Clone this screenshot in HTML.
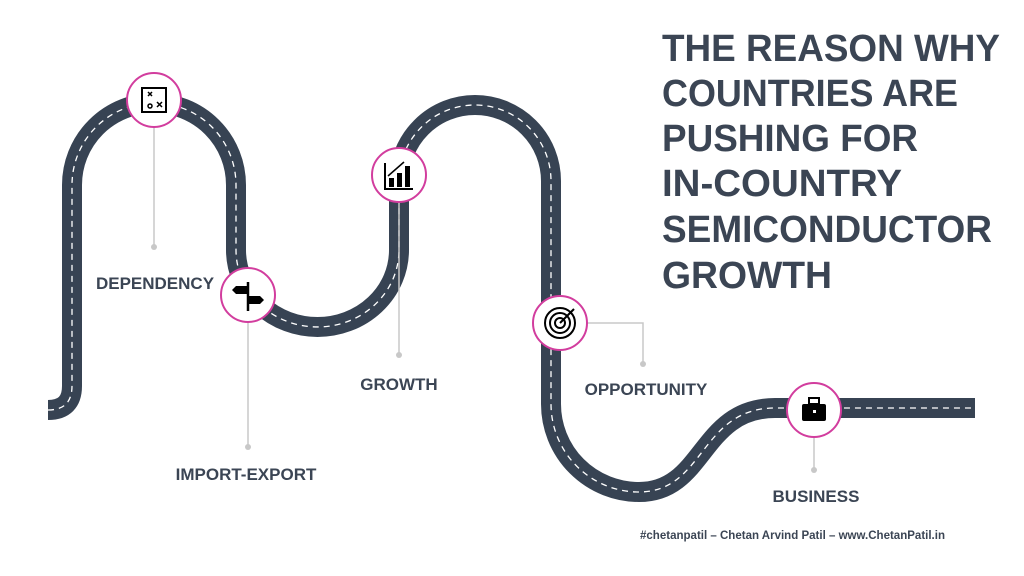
<!DOCTYPE html>
<html><head><meta charset="utf-8"><style>
body{margin:0;background:#fff;}
svg{display:block}
text{font-family:"Liberation Sans",sans-serif;font-weight:bold;fill:#3b4554}
</style></head><body>
<svg width="1024" height="576" viewBox="0 0 1024 576">
<path d="M48,410 Q72,410 72,386 L72,185 A82,82 0 0 1 236,185 L236,250 A81.5,77 0 0 0 399,250 L399,181 A76,76 0 0 1 551,181 L551,404 A88,88 0 0 0 639,492 C705,492 700,408 775,408 L975,408" fill="none" stroke="#374353" stroke-width="20"/>
<path d="M48,410 Q72,410 72,386 L72,185 A82,82 0 0 1 236,185 L236,250 A81.5,77 0 0 0 399,250 L399,181 A76,76 0 0 1 551,181 L551,404 A88,88 0 0 0 639,492 C705,492 700,408 775,408 L975,408" fill="none" stroke="#fff" stroke-width="1.3" stroke-dasharray="6,5"/>
<g stroke="#c8c8c8" stroke-width="1.5" fill="none">
<path d="M154,127 V247"/><path d="M248,322 V447"/><path d="M399,202 V355"/><path d="M587,323 H643 V364"/><path d="M814,437 V470"/>
</g>
<g fill="#c8c8c8"><circle cx="154" cy="247" r="3"/><circle cx="248" cy="447" r="3"/><circle cx="399" cy="355" r="3"/><circle cx="643" cy="364" r="3"/><circle cx="814" cy="470" r="3"/></g>
<g fill="#fff" stroke="#d23d9e" stroke-width="2">
<circle cx="154" cy="100" r="27"/><circle cx="248" cy="295" r="27"/><circle cx="399" cy="175" r="27"/><circle cx="560" cy="323" r="27"/><circle cx="814" cy="410" r="27"/>
</g>
<!-- icons -->
<g stroke="#000" fill="none" stroke-width="2">
<rect x="142" y="88" width="24" height="24"/>
<path d="M157,107 l5,-5 m0,5 l-5,-5 M148,96 l4,-4 m0,4 l-4,-4" stroke-width="1.5"/>
<circle cx="150" cy="106" r="2" stroke-width="1.5"/>
<path d="M248,282 V311" stroke-width="2.5"/>
<path d="M385,163 V189 H413" stroke-width="2"/>
<circle cx="560" cy="323" r="15"/><circle cx="560" cy="323" r="10"/><circle cx="560" cy="323" r="5"/>
<path d="M560,323 L574,309" stroke-width="2"/>
</g>
<g fill="#000">
<polygon points="236,286 247,286 247,294 236,294 232,290"/>
<polygon points="249,296 260,296 264,300 260,304 249,304"/>
<rect x="389" y="178" width="5" height="9"/><rect x="397" y="173" width="5" height="14"/><rect x="405" y="166" width="5" height="21"/>
<rect x="802" y="404" width="24" height="17" rx="2"/>
<rect x="809" y="398" width="10" height="6" fill="none" stroke="#000" stroke-width="2"/>
</g>
<rect x="813" y="410" width="3" height="3" fill="#fff"/>
<path d="M388,176 L404,162" stroke="#000" stroke-width="1.5"/>
<text x="155" y="289" font-size="17" text-anchor="middle">DEPENDENCY</text>
<text x="246" y="480" font-size="17" text-anchor="middle">IMPORT-EXPORT</text>
<text x="399" y="390" font-size="17" text-anchor="middle">GROWTH</text>
<text x="646" y="395" font-size="17" text-anchor="middle">OPPORTUNITY</text>
<text x="816" y="502" font-size="17" text-anchor="middle">BUSINESS</text>
<g font-size="38" fill="#3a4656">
<text x="662" y="61" textLength="338" lengthAdjust="spacingAndGlyphs">THE REASON WHY</text>
<text x="662" y="106" textLength="296" lengthAdjust="spacingAndGlyphs">COUNTRIES ARE</text>
<text x="662" y="151" textLength="256" lengthAdjust="spacingAndGlyphs">PUSHING FOR</text>
<text x="662" y="196" textLength="240" lengthAdjust="spacingAndGlyphs">IN-COUNTRY</text>
<text x="662" y="242" textLength="330" lengthAdjust="spacingAndGlyphs">SEMICONDUCTOR</text>
<text x="662" y="288" textLength="170" lengthAdjust="spacingAndGlyphs">GROWTH</text>
</g>
<text x="640" y="539" font-size="11.5" fill="#111" textLength="305" lengthAdjust="spacingAndGlyphs">#chetanpatil – Chetan Arvind Patil – www.ChetanPatil.in</text>
</svg>
</body></html>
